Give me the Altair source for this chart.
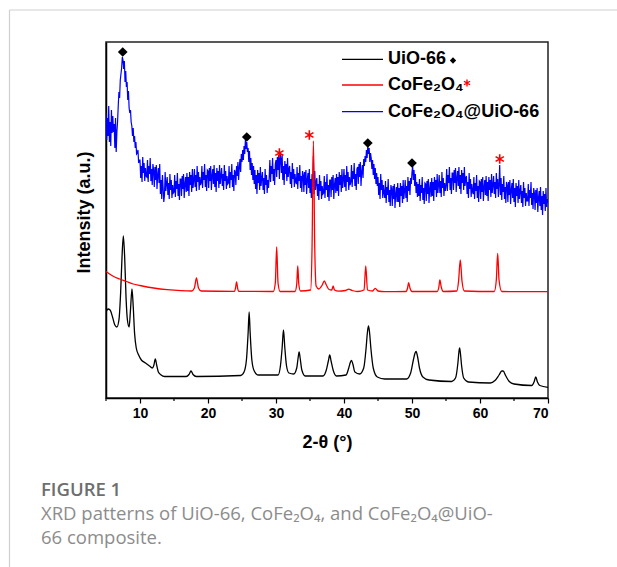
import altair as alt
import pandas as pd

# ---------------- data ----------------
# CoFe2O4@UiO-66 (blue), measured on a uniform 2-theta grid
blue_start = 5.0
blue_step = 0.1
blue_int = [
    285, 258, 280, 262, 292, 256, 276, 252, 288, 265,
    282, 266, 274, 250, 280, 246, 266, 276, 292, 306,
    300, 318, 324, 330, 341, 338, 329, 337, 316, 327,
    311, 316, 298, 307, 290, 285, 288, 276, 272, 262,
    270, 256, 262, 250, 256, 244, 245, 248, 235, 238,
    238, 220, 232, 216, 241, 225, 235, 217, 230, 222,
    221, 238, 216, 232, 224, 240, 217, 229, 213, 234,
    228, 211, 231, 218, 233, 209, 223, 230, 215, 234,
    204, 218, 199, 223, 210, 196, 203, 226, 207, 215,
    221, 203, 215, 199, 224, 208, 218, 200, 213, 205,
    206, 223, 201, 217, 209, 225, 202, 214, 198, 219,
    219, 202, 222, 209, 224, 200, 214, 221, 206, 225,
    207, 221, 202, 226, 213, 223, 206, 229, 210, 218,
    229, 211, 223, 207, 232, 216, 226, 208, 221, 213,
    215, 232, 210, 226, 218, 234, 211, 223, 207, 228,
    227, 210, 230, 217, 232, 208, 222, 229, 214, 233,
    211, 225, 206, 230, 217, 227, 210, 233, 214, 222,
    230, 212, 224, 208, 233, 217, 227, 209, 222, 214,
    215, 232, 210, 226, 218, 234, 211, 223, 207, 228,
    226, 213, 232, 222, 236, 218, 230, 239, 226, 244,
    236, 248, 238, 252, 244, 258, 249, 256, 246, 250,
    236, 247, 228, 240, 223, 235, 218, 232, 214, 228,
    209, 223, 204, 228, 215, 225, 208, 231, 212, 220,
    226, 208, 220, 204, 229, 213, 223, 205, 218, 210,
    221, 238, 216, 232, 224, 240, 217, 229, 213, 234,
    238, 221, 241, 228, 243, 219, 245, 240, 225, 244,
    218, 232, 213, 237, 224, 234, 217, 240, 221, 229,
    232, 214, 226, 210, 235, 219, 229, 211, 224, 216,
    214, 231, 209, 225, 217, 233, 210, 222, 206, 227,
    223, 206, 226, 213, 228, 204, 218, 225, 210, 229,
    205, 219, 200, 224, 211, 242, 204, 227, 208, 216,
    220, 202, 214, 198, 223, 207, 217, 199, 212, 204,
    205, 222, 200, 216, 208, 224, 201, 213, 197, 218,
    218, 201, 221, 208, 223, 199, 213, 220, 205, 224,
    207, 221, 202, 226, 213, 223, 206, 229, 210, 218,
    229, 211, 223, 207, 232, 216, 226, 208, 221, 213,
    216, 233, 211, 227, 219, 235, 212, 224, 208, 229,
    231, 214, 234, 221, 236, 212, 226, 233, 220, 239,
    232, 242, 236, 248, 240, 252, 244, 250, 236, 245,
    240, 229, 238, 223, 234, 219, 230, 214, 225, 212,
    221, 203, 215, 199, 224, 208, 218, 200, 213, 205,
    200, 217, 195, 211, 203, 219, 196, 208, 192, 213,
    209, 192, 212, 199, 214, 190, 204, 211, 196, 215,
    196, 210, 191, 215, 202, 212, 195, 218, 199, 207,
    218, 200, 212, 196, 221, 207, 217, 203, 220, 214,
    226, 232, 218, 228, 212, 224, 205, 216, 201, 214,
    202, 219, 197, 213, 205, 221, 198, 210, 194, 215,
    214, 197, 217, 204, 219, 195, 209, 216, 201, 220,
    202, 216, 197, 221, 208, 218, 201, 224, 205, 213,
    223, 205, 217, 201, 226, 210, 220, 202, 215, 207,
    212, 229, 207, 223, 215, 231, 208, 220, 204, 225,
    225, 208, 228, 215, 230, 206, 220, 227, 212, 231,
    209, 223, 204, 228, 215, 225, 208, 231, 212, 220,
    222, 204, 216, 200, 225, 209, 219, 201, 214, 206,
    204, 221, 199, 215, 207, 223, 200, 212, 196, 217,
    216, 199, 219, 206, 221, 197, 211, 218, 203, 222,
    202, 216, 197, 221, 208, 218, 201, 224, 205, 213,
    222, 204, 216, 200, 225, 209, 219, 201, 214, 233,
    203, 220, 198, 214, 206, 222, 199, 211, 195, 216,
    213, 196, 216, 203, 218, 194, 208, 215, 200, 219,
    196, 210, 191, 215, 202, 212, 195, 218, 199, 207,
    213, 195, 207, 191, 216, 200, 210, 192, 205, 197,
    197, 214, 192, 208, 200, 216, 193, 205, 189, 210,
    205, 188, 208, 195, 210, 186, 200, 207, 192, 211,
    188, 202, 183, 207, 194, 204, 187, 210, 191, 199,
    195,
]

# CoFe2O4 (red)
red_x = [5.0, 6.0, 7.0, 8.0, 9.0, 10.0, 12.0, 14.0, 16.0, 17.6, 18.0, 18.3, 18.6, 19.0,
         23.9, 24.05, 24.2, 24.35, 24.5, 29.6, 29.9, 30.1, 30.3, 30.6,
         32.8, 33.05, 33.2, 33.35, 33.6, 35.1, 35.3, 35.5, 35.7, 35.9, 36.3,
         36.8, 37.1, 37.4, 37.8, 38.2, 38.4, 38.6, 39.2, 40.2, 40.7, 41.2, 42.0,
         42.95, 43.2, 43.45, 44.2, 44.6, 45.0, 46.0, 49.1, 49.35, 49.5, 49.7, 50.0,
         53.7, 53.95, 54.1, 54.3, 54.6, 56.6, 56.85, 57.1, 57.35, 57.7,
         62.1, 62.4, 62.6, 62.8, 63.2, 70.0]
red_int = [126.5, 122, 119, 116.5, 114, 112.5, 110, 108.3, 107.3, 107, 110, 120, 110, 107,
           106.6, 110, 116, 110, 106.6, 106.5, 115, 151, 115, 106.5,
           106.5, 114, 132, 114, 107, 108, 150, 257, 150, 112, 109,
           113, 117, 113, 108.5, 108, 112, 108, 106.8, 107.5, 108.8, 107.5, 106.5,
           108, 132, 108, 107, 109.7, 107, 106.3, 106.5, 110, 115.3, 110, 106.5,
           106.5, 111, 118, 111, 106.5, 107, 117, 138, 117, 107,
           106.5, 118, 144.7, 118, 106.5, 106.3]

# UiO-66 (black)
black_x = [5.0, 5.3, 5.6, 6.0, 6.3, 6.6, 6.9, 7.15, 7.35, 7.55, 7.75, 7.95, 8.15, 8.4, 8.6,
           8.82, 9.0, 9.2, 9.45, 9.8, 10.2, 10.8, 11.4, 11.8, 12.05, 12.25, 12.45, 12.7,
           13.1, 13.6, 16.8, 17.2, 17.5, 17.8, 18.3, 24.8, 25.3, 25.65, 25.9, 26.05, 26.2,
           26.45, 26.8, 27.4, 30.3, 30.65, 30.9, 31.1, 31.3, 31.55, 31.9, 32.6, 33.05,
           33.25, 33.4, 33.55, 33.8, 34.3, 36.9, 37.4, 37.7, 37.9, 38.1, 38.4, 38.9,
           40.3, 40.7, 40.95, 41.1, 41.3, 41.6, 42.3, 42.9, 43.25, 43.45, 43.6, 43.75,
           43.95, 44.3, 44.9, 46.0, 49.2, 49.8, 50.2, 50.45, 50.6, 50.8, 51.1, 51.6,
           52.5, 55.8, 56.4, 56.75, 56.9, 57.0, 57.1, 57.3, 57.6, 58.3, 61.5, 62.2,
           62.8, 63.2, 63.4, 63.8, 64.3, 65.0, 67.6, 67.95, 68.2, 68.45, 68.8, 70.0]
black_int = [86, 89, 88, 80, 73, 71, 78, 105, 140, 162, 140, 100, 78, 71, 88,
             109, 92, 65, 50, 43, 38, 35, 32, 30, 33, 39, 33, 26,
             23, 21.5, 21.5, 23.5, 27, 23.5, 21.5, 22.5, 26, 38, 65, 86, 65,
             38, 27, 23, 23, 32, 50, 68, 50, 32, 25, 24, 30,
             40, 46, 40, 28, 22, 22, 28, 37, 43, 37, 28, 22,
             23, 30, 36, 37.5, 34, 26, 24, 30, 50, 66, 72, 66,
             50, 30, 21, 19, 19, 25, 38, 45, 46.5, 42, 30, 21,
             18, 16.5, 20, 35, 46, 50, 46, 32, 20, 16, 15, 17.5,
             23, 27, 27, 22, 16.5, 14, 12.5, 16, 21, 16, 12.5, 10.7]

# peak markers
diamond_x = [7.46, 25.7, 43.5, 50.0]
diamond_y = [346, 261, 255, 235]
star_x = [30.5, 34.9, 62.9]
star_y = [245, 263, 239]

x_ticks = [10, 20, 30, 40, 50, 60, 70]
x_minor = [5, 15, 25, 35, 45, 55, 65]

legend_labels = ["UiO-66", "CoFe₂O₄", "CoFe₂O₄@UiO-66"]
legend_colors = ["black", "#ff0000", "#0000ff"]

caption_head = "FIGURE 1"
caption_lines = ["XRD patterns of UiO-66, CoFe₂O₄, and CoFe₂O₄@UiO-", "66 composite."]

# ---------------- build ----------------
W, H = 442, 356
FONT = "Liberation Sans"

blue_df = pd.DataFrame({"x": [round(blue_start + blue_step * i, 2) for i in range(len(blue_int))],
                        "y": blue_int})
red_df = pd.DataFrame({"x": red_x, "y": red_int})
black_df = pd.DataFrame({"x": black_x, "y": black_int})
dia_df = pd.DataFrame({"x": diamond_x, "y": diamond_y})
star_df = pd.DataFrame({"x": star_x, "y": star_y})
minor_df = pd.DataFrame({"x": x_minor})
one = pd.DataFrame({"a": [0]})

xs = alt.Scale(domain=[5, 70], nice=False, zero=False)
ys = alt.Scale(domain=[0, 356], nice=False, zero=False)

x_axis = alt.Axis(values=x_ticks, title="2-θ (°)", labelFont=FONT, labelFontSize=14,
                  labelFontWeight="bold", labelColor="black", labelPadding=3,
                  tickSize=5, tickColor="black", tickWidth=1.2, grid=False,
                  domainColor="black", domainWidth=1.5,
                  titleFont=FONT, titleFontSize=18, titleFontWeight="bold",
                  titleColor="black", titleY=44, titleBaseline="middle")
y_axis = alt.Axis(labels=False, ticks=False, grid=False, title="Intensity (a.u.)",
                  domainColor="black", domainWidth=1.5,
                  titleFont=FONT, titleFontSize=18, titleFontWeight="bold",
                  titleColor="black", titleX=-22, titleY=170, titleBaseline="middle",
                  titleAngle=270)


def enc(chart):
    return chart.encode(x=alt.X("x:Q", scale=xs, axis=x_axis),
                        y=alt.Y("y:Q", scale=ys, axis=y_axis))


black_line = enc(alt.Chart(black_df).mark_line(color="black", strokeWidth=1.3,
                                                interpolate="monotone", clip=True))
red_line = enc(alt.Chart(red_df).mark_line(color="#ff0000", strokeWidth=1.3,
                                            interpolate="monotone", clip=True))
blue_line = enc(alt.Chart(blue_df).mark_line(color="#0000ff", strokeWidth=1.2, clip=True))

diamonds = enc(alt.Chart(dia_df).mark_point(shape="diamond", filled=True, color="black",
                                            size=95, opacity=1))
STAR = "M0,-1L0,1M-0.87,-0.5L0.87,0.5M-0.87,0.5L0.87,-0.5"
stars = enc(alt.Chart(star_df).mark_point(shape=STAR, filled=False, stroke="#ff0000",
                                          strokeWidth=1.6, size=90, opacity=1))

minor_ticks = alt.Chart(minor_df).mark_rule(color="black", strokeWidth=1.2).encode(
    x=alt.X("x:Q", scale=xs, axis=x_axis), y=alt.value(H), y2=alt.value(H + 3))

layers = [minor_ticks, blue_line, black_line, red_line, diamonds, stars]

# legend
leg_y = [17.3, 43, 69.7]
for lab, col, yy in zip(legend_labels, legend_colors, leg_y):
    layers.append(alt.Chart(one).mark_rule(color=col, strokeWidth=1.3).encode(
        x=alt.value(236), x2=alt.value(277), y=alt.value(yy)))
    layers.append(alt.Chart(one).mark_text(text=lab, font=FONT, fontSize=18, fontWeight="bold",
                                           align="left", baseline="middle", color="black").encode(
        x=alt.value(282), y=alt.value(yy)))
layers.append(alt.Chart(one).mark_point(shape="diamond", filled=True, color="black", size=40,
                                        opacity=1).encode(x=alt.value(347), y=alt.value(18.5)))
layers.append(alt.Chart(one).mark_point(shape=STAR, filled=False, stroke="#ff0000", strokeWidth=1.4,
                                        size=50, opacity=1).encode(x=alt.value(361), y=alt.value(41)))

# card border
layers.append(alt.Chart(one).mark_rule(color="#cfcfcf", strokeWidth=1.2).encode(
    x=alt.value(-96.5), y=alt.value(-32), y2=alt.value(530)))
layers.append(alt.Chart(one).mark_rule(color="#cfcfcf", strokeWidth=1.2).encode(
    x=alt.value(-96.5), x2=alt.value(520), y=alt.value(-32)))

# caption
layers.append(alt.Chart(one).mark_text(text=caption_head, font="Open Sans", fontSize=18.5,
                                       fontWeight=600, align="left", baseline="middle",
                                       color="#6e6e6e").encode(x=alt.value(-65), y=alt.value(448)))
for i, line in enumerate(caption_lines):
    layers.append(alt.Chart(one).mark_text(text=line, font="Open Sans", fontSize=18.5,
                                           fontWeight=400, align="left", baseline="middle",
                                           color="#8c8c8c").encode(
        x=alt.value(-65), y=alt.value(472 + 24 * i)))

chart = alt.layer(*layers).properties(
    width=W, height=H,
    padding={"left": 106, "top": 42, "right": 69, "bottom": 169},
    autosize=alt.AutoSizeParams(type="none"),
    background="white",
).configure_view(stroke="#222222", strokeWidth=1.5)

chart.save("out.html", embed_options={"renderer": "svg", "actions": False})
